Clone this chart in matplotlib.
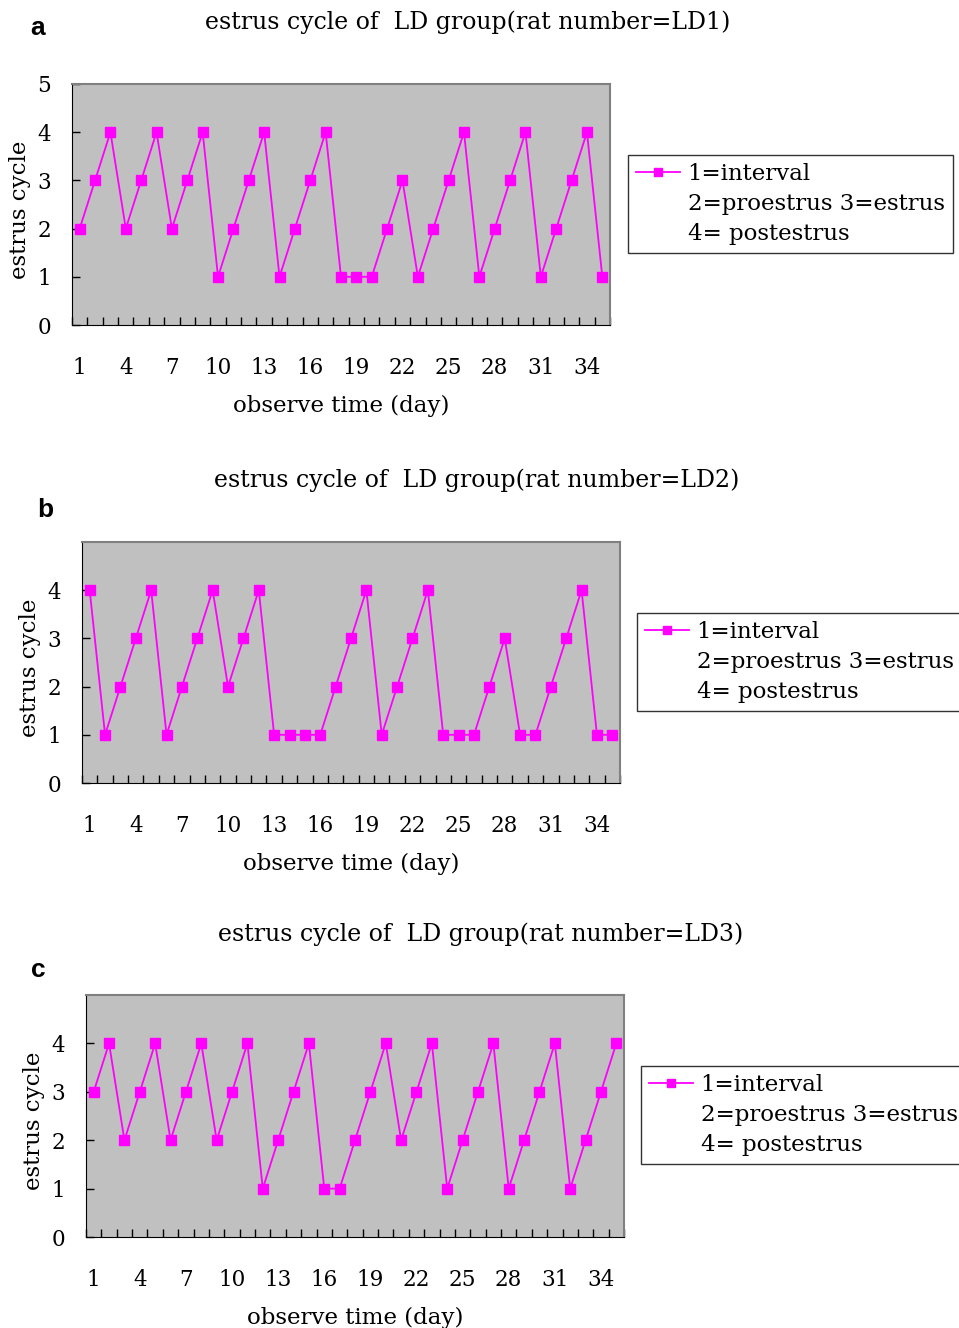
import matplotlib.pyplot as plt
from matplotlib.lines import Line2D
import numpy as np

# estrus cycle data of LD group, 35 days of observation
days = list(range(1, 36))
ld1 = [2, 3, 4, 2, 3, 4, 2, 3, 4, 1, 2, 3, 4, 1, 2, 3, 4, 1, 1, 1,
       2, 3, 1, 2, 3, 4, 1, 2, 3, 4, 1, 2, 3, 4, 1]
ld2 = [4, 1, 2, 3, 4, 1, 2, 3, 4, 2, 3, 4, 1, 1, 1, 1, 2, 3, 4, 1,
       2, 3, 4, 1, 1, 1, 2, 3, 1, 1, 2, 3, 4, 1, 1]
ld3 = [3, 4, 2, 3, 4, 2, 3, 4, 2, 3, 4, 1, 2, 3, 4, 1, 1, 2, 3, 4,
       2, 3, 4, 1, 2, 3, 4, 1, 2, 3, 4, 1, 2, 3, 4]
xtick_days = list(range(1, 36, 3))
legend_lines = ['1=interval', '2=proestrus 3=estrus', '4= postestrus']

W, H = 959, 1328
font = 'DejaVu Serif'
fs = 16.5
tfs = 15.5
magenta = '#FF00FF'

fig = plt.figure(figsize=(W / 100, H / 100), dpi=100)

# (series, panel letter, rat id, axes left/top/bottom px, letter pos, title pos, legend pos)
panels = [
    (ld1, 'a', 'LD1', 72, 84, 325, (38, 28), (205, 22), (628, 155), [0, 1, 2, 3, 4, 5]),
    (ld2, 'b', 'LD2', 82, 542, 783, (45, 510), (214, 480), (637, 613), [0, 1, 2, 3, 4]),
    (ld3, 'c', 'LD3', 86, 995, 1237, (38, 970), (218, 934), (641, 1066), [0, 1, 2, 3, 4]),
]

for vals, letter, rat, left, top, bottom, lpos, tpos, legpos, yt in panels:
    ax = fig.add_axes([left / W, 1 - bottom / H, 538 / W, (bottom - top) / H])
    ax.set_facecolor('#C0C0C0')
    ax.plot(days, vals, '-s', color=magenta, lw=1.3, ms=6.5, mec=magenta)

    ax.set_xlim(0.5, 35.5)
    ax.set_ylim(0, 5)
    ax.set_xticks(xtick_days)
    ax.set_xticklabels([str(d) for d in xtick_days], fontfamily=font, fontsize=tfs)
    ax.set_xticks(np.arange(0.5, 36, 1), minor=True)
    ax.tick_params(axis='x', which='major', length=0, pad=23)
    ax.tick_params(axis='x', which='minor', direction='in', length=6, width=1)
    ax.set_yticks(yt)
    ax.set_yticklabels([str(v) for v in yt], fontfamily=font, fontsize=tfs)
    ax.tick_params(axis='y', direction='in', length=6, width=1, pad=15)

    for s in ['left', 'bottom']:
        ax.spines[s].set_color('black')
    for s in ['top', 'right']:
        ax.spines[s].set_color('#808080')
        ax.spines[s].set_linewidth(1.5)

    ax.set_ylabel('estrus cycle', fontfamily=font, fontsize=fs, va='center')
    ax.yaxis.set_label_coords(-0.097, 0.48)
    ax.set_xlabel('observe time (day)', fontfamily=font, fontsize=fs, va='center')
    ax.xaxis.set_label_coords(0.5, -0.335)

    fig.text(lpos[0] / W, 1 - lpos[1] / H, letter, fontsize=19, fontweight='bold',
             fontfamily='Liberation Sans', ha='center', va='center')
    fig.text(tpos[0] / W, 1 - tpos[1] / H,
             'estrus cycle of  LD group(rat number=' + rat + ')',
             fontfamily=font, fontsize=17, ha='left', va='center')

    handles = [Line2D([], [], color=magenta, marker='s', lw=1.3, ms=6),
               Line2D([], [], color='none'), Line2D([], [], color='none')]
    leg = fig.legend(handles, legend_lines, loc='upper left',
                     bbox_to_anchor=(legpos[0] / W, 1 - legpos[1] / H),
                     prop={'family': font, 'size': fs}, fancybox=False,
                     framealpha=1, edgecolor='#333333', handlelength=1.9,
                     handletextpad=0.35, labelspacing=0.35, borderpad=0.35,
                     borderaxespad=0)
    leg.get_frame().set_linewidth(1)

fig.savefig('out.png', dpi=100)
